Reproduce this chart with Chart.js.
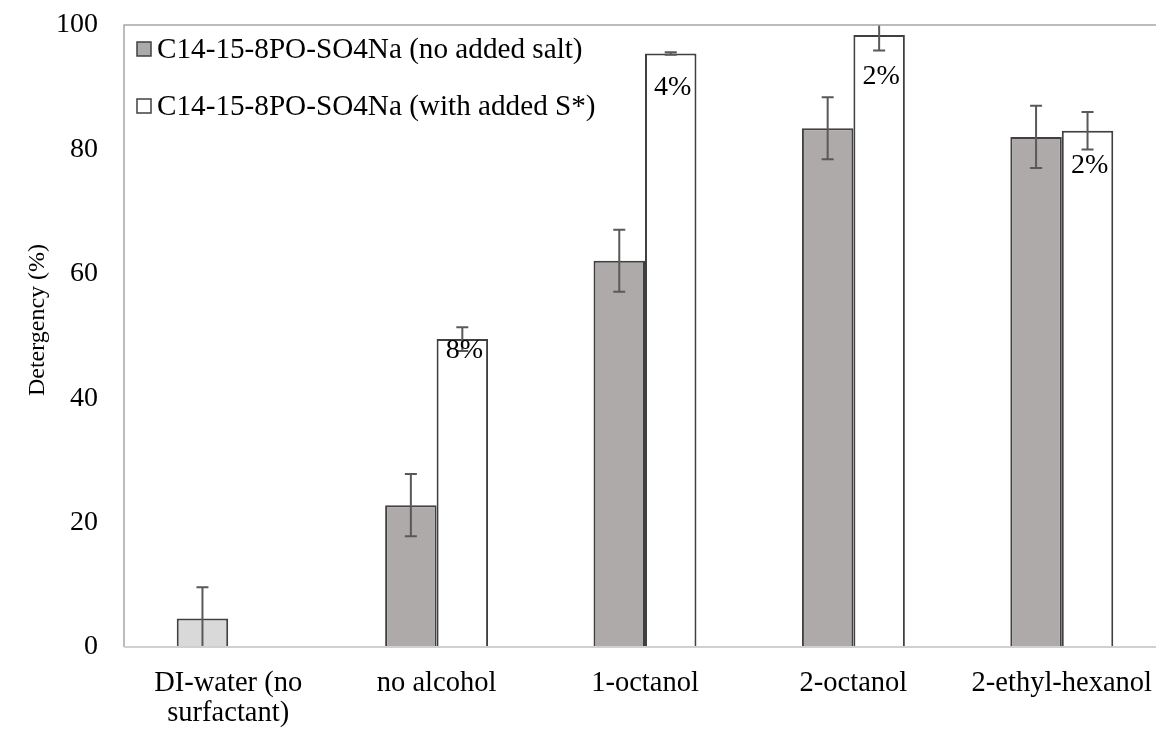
<!DOCTYPE html>
<html>
<head>
<meta charset="utf-8">
<script src="https://cdn.jsdelivr.net/npm/chart.js@4.4.0/dist/chart.umd.min.js"></script>
<style>
html, body { margin:0; padding:0; background:#fff; overflow:hidden; }
canvas { display:block; }
</style>
</head>
<body>
<canvas id="c" width="1166" height="729"></canvas>
<script>
'use strict';
// data
const categories   = [['DI-water (no', 'surfactant)'], 'no alcohol', '1-octanol', '2-octanol', '2-ethyl-hexanol'];
const seriesNames  = ['C14-15-8PO-SO4Na (no added salt)', 'C14-15-8PO-SO4Na (with added S*)'];
const noSalt       = [4.6, 22.8, 62.1, 83.4, 82.0];
const noSaltErr    = [5.0, 5.0, 5.0, 5.0, 5.0];
const withSalt     = [null, 49.5, 95.4, 98.4, 83.0];
const withSaltErr  = [null, 1.9, 0.2, 2.5, 3.0];
const saltLabels   = [null, '8%', '4%', '2%', '2%'];
const saltLabelAt  = [null, 47.6, 89.9, 91.7, 77.4];
const yTicks       = [0, 20, 40, 60, 80, 100];
const yTitle       = 'Detergency (%)';

const GRAY = '#aeaaaa', DI_GRAY = '#d9d9d9', EDGE = '#404040', ERR = '#595959';
const FONT = "'Liberation Serif', 'Times New Roman', serif";

Chart.defaults.font.family = FONT;
Chart.defaults.color = '#000';

// plot frame + y title
const framePlugin = {
  id: 'frame',
  afterDraw(chart) {
    const { ctx, chartArea: a } = chart;
    ctx.save();
    ctx.strokeStyle = '#a6a6a6';
    ctx.lineWidth = 1.5;
    ctx.beginPath();
    ctx.moveTo(a.left, a.bottom); ctx.lineTo(a.left, a.top); ctx.lineTo(a.right, a.top); ctx.lineTo(a.right, a.bottom);
    ctx.stroke();
    ctx.strokeStyle = '#d0d0d0';
    ctx.lineWidth = 2;
    ctx.beginPath();
    ctx.moveTo(a.left, a.bottom); ctx.lineTo(a.right, a.bottom);
    ctx.stroke();

    ctx.translate(38, 320);
    ctx.rotate(-Math.PI / 2);
    ctx.font = '24px ' + FONT;
    ctx.fillStyle = '#000';
    ctx.textAlign = 'center';
    ctx.textBaseline = 'middle';
    ctx.fillText(yTitle, 0, 0);
    ctx.restore();
  }
};

// error bars, clipped to the plot
const errPlugin = {
  id: 'errbars',
  afterDatasetsDraw(chart) {
    const { ctx, chartArea: a, scales: { y } } = chart;
    const errs = [noSaltErr, withSaltErr];
    ctx.save();
    ctx.beginPath();
    ctx.rect(a.left, a.top, a.right - a.left, a.bottom - a.top);
    ctx.clip();
    ctx.strokeStyle = ERR;
    ctx.lineWidth = 2;
    chart.data.datasets.forEach((ds, i) => {
      const meta = chart.getDatasetMeta(i);
      ds.data.forEach((v, j) => {
        const e = errs[i][j];
        if (v == null || e == null) return;
        const x = meta.data[j].x;
        const y1 = y.getPixelForValue(v + e), y0 = y.getPixelForValue(v - e);
        ctx.beginPath();
        ctx.moveTo(x, y0); ctx.lineTo(x, y1);
        ctx.moveTo(x - 6, y1); ctx.lineTo(x + 6, y1);
        ctx.moveTo(x - 6, y0); ctx.lineTo(x + 6, y0);
        ctx.stroke();
      });
    });
    ctx.restore();

    // percentage labels inside the white bars
    const meta2 = chart.getDatasetMeta(1);
    ctx.save();
    ctx.font = '28px ' + FONT;
    ctx.fillStyle = '#000';
    ctx.textAlign = 'center';
    ctx.textBaseline = 'middle';
    saltLabels.forEach((t, j) => {
      if (!t) return;
      ctx.fillText(t, meta2.data[j].x + 2, y.getPixelForValue(saltLabelAt[j]));
    });
    ctx.restore();
  }
};

// legend inside the plot, top-left
const legendPlugin = {
  id: 'innerLegend',
  afterDraw(chart) {
    const { ctx, chartArea: a } = chart;
    const fills = [GRAY, '#ffffff'];
    ctx.save();
    ctx.font = '29.2px ' + FONT;
    ctx.textBaseline = 'middle';
    seriesNames.forEach((name, i) => {
      const cy = a.top + 24 + i * 57;
      ctx.fillStyle = fills[i];
      ctx.fillRect(a.left + 13, cy - 7, 14, 14);
      ctx.strokeStyle = EDGE;
      ctx.lineWidth = 1.5;
      ctx.strokeRect(a.left + 13, cy - 7, 14, 14);
      ctx.fillStyle = '#000';
      ctx.fillText(name, a.left + 33, cy + 1);
    });
    ctx.restore();
  }
};

new Chart(document.getElementById('c'), {
  type: 'bar',
  data: {
    labels: categories,
    datasets: [
      { label: seriesNames[0], data: noSalt,
        backgroundColor: noSalt.map((v, i) => i === 0 ? DI_GRAY : GRAY),
        borderColor: EDGE, borderWidth: 2 },
      { label: seriesNames[1], data: withSalt,
        backgroundColor: '#ffffff', borderColor: EDGE, borderWidth: 2 }
    ]
  },
  options: {
    responsive: false,
    animation: false,
    layout: { padding: { top: 25, left: 0, right: 0, bottom: 0 } },
    categoryPercentage: 0.494,
    barPercentage: 1,
    plugins: { legend: { display: false }, tooltip: { enabled: false } },
    scales: {
      x: {
        grid: { display: false, drawTicks: false },
        border: { display: false },
        ticks: { font: { size: 28.5, lineHeight: 1.07 }, color: '#000', padding: 21, maxRotation: 0, autoSkip: false },
        afterFit: s => { s.height = 82; s.paddingLeft = 0; s.paddingRight = 0; }
      },
      y: {
        min: 0, max: 100,
        afterBuildTicks: s => { s.ticks = yTicks.map(v => ({ value: v })); },
        grid: { display: false, drawTicks: false },
        border: { display: false },
        ticks: { font: { size: 28 }, color: '#000', padding: 26 },
        afterFit: s => { s.width = 124; s.paddingTop = 0; s.paddingBottom = 0; }
      }
    }
  },
  plugins: [framePlugin, errPlugin, legendPlugin]
});
</script>
</body>
</html>
